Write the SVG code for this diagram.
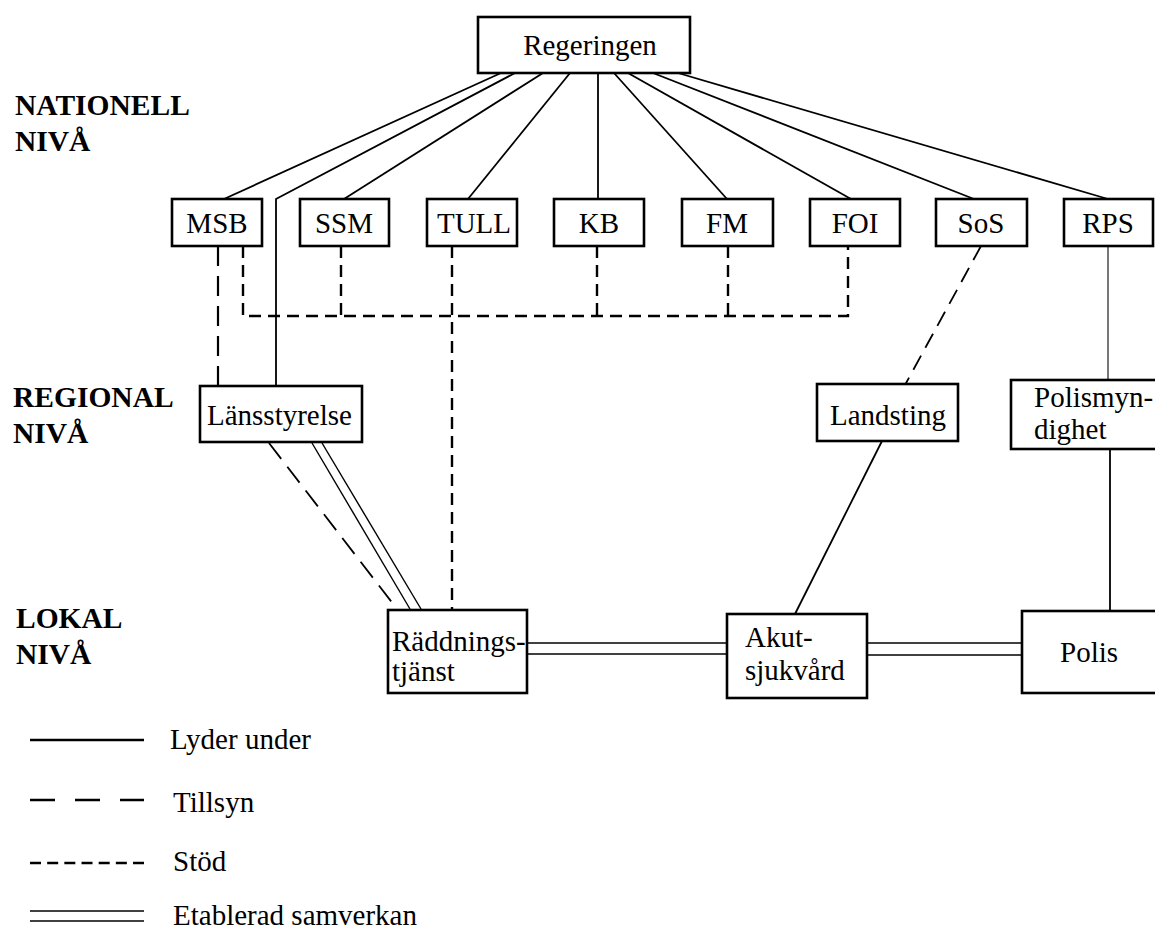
<svg xmlns="http://www.w3.org/2000/svg" width="1155" height="930" viewBox="0 0 1155 930">
<style>
.box{fill:#fff;stroke:#000;stroke-width:2.6}
.t{font-family:"Liberation Serif","Times New Roman",serif;font-size:29px;fill:#000}
.tc{text-anchor:middle}
.lvl{font-family:"Liberation Serif","Times New Roman",serif;font-size:29.5px;font-weight:bold;fill:#000}
.sol{stroke:#000;stroke-width:1.8;fill:none}
.gray{stroke:#777;stroke-width:2;fill:none}
.til{stroke:#000;stroke-width:2.2;fill:none;stroke-dasharray:20 10}
.sto{stroke:#000;stroke-width:2.4;fill:none;stroke-dasharray:12 7}
.dbl{stroke:#000;stroke-width:1.4;fill:none}
</style>
<rect width="1155" height="930" fill="#fff"/>
<g id="levels">
<text class="lvl" x="15" y="115">NATIONELL</text>
<text class="lvl" x="15" y="151">NIVÅ</text>
<text class="lvl" x="13" y="407">REGIONAL</text>
<text class="lvl" x="13" y="443">NIVÅ</text>
<text class="lvl" x="16" y="628">LOKAL</text>
<text class="lvl" x="16" y="664">NIVÅ</text>
</g>
<g id="connectors">
<line class="sol" x1="501" y1="73" x2="224" y2="199"/>
<polyline class="sol" points="515,73 276,199 276,386"/>
<line class="sol" x1="543" y1="73" x2="344" y2="199"/>
<line class="sol" x1="570" y1="73" x2="468" y2="199"/>
<line class="sol" x1="598" y1="73" x2="598" y2="199"/>
<line class="sol" x1="614" y1="73" x2="727" y2="199"/>
<line class="sol" x1="628" y1="73" x2="851" y2="199"/>
<line class="sol" x1="653" y1="73" x2="974" y2="199"/>
<line class="sol" x1="678" y1="73" x2="1108" y2="199"/>
<line class="til" x1="218" y1="246" x2="218" y2="386"/>
<polyline class="sto" points="243,246 243,316 848,316 848,246"/>
<line class="sto" x1="341" y1="246" x2="341" y2="316"/>
<line class="sto" x1="597" y1="246" x2="597" y2="316"/>
<line class="sto" x1="728" y1="246" x2="728" y2="316"/>
<line class="sto" x1="452" y1="246" x2="452" y2="610"/>
<line class="til" x1="981" y1="246" x2="905" y2="385" style="stroke-dasharray:16 9;stroke-width:1.8"/>
<line class="gray" x1="1108" y1="246" x2="1108" y2="380"/>
<line class="sol" x1="882" y1="441" x2="795" y2="614"/>
<line class="sol" x1="1110" y1="449" x2="1110" y2="611"/>
<line class="til" x1="269" y1="443" x2="397" y2="609" style="stroke-width:1.8"/>
<line class="dbl" x1="312" y1="443" x2="410" y2="609"/>
<line class="dbl" x1="322" y1="443" x2="421" y2="609"/>
<line class="dbl" x1="524" y1="643" x2="727" y2="643"/>
<line class="dbl" x1="524" y1="654" x2="727" y2="654"/>
<line class="dbl" x1="866" y1="643" x2="1022" y2="643"/>
<line class="dbl" x1="866" y1="655" x2="1022" y2="655"/>
</g>
<g id="regeringen"><rect class="box" x="478" y="17" width="212" height="56"/><text class="t tc" x="590" y="55">Regeringen</text></g>
<g id="msb"><rect class="box" x="172" y="199" width="90" height="47"/><text class="t tc" x="217" y="233">MSB</text></g>
<g id="ssm"><rect class="box" x="300" y="199" width="89" height="47"/><text class="t tc" x="344" y="233">SSM</text></g>
<g id="tull"><rect class="box" x="427" y="199" width="90" height="47"/><text class="t tc" x="474" y="233">TULL</text></g>
<g id="kb"><rect class="box" x="554" y="199" width="90" height="47"/><text class="t tc" x="599" y="233">KB</text></g>
<g id="fm"><rect class="box" x="682" y="199" width="91" height="47"/><text class="t tc" x="727" y="233">FM</text></g>
<g id="foi"><rect class="box" x="810" y="199" width="90" height="47"/><text class="t tc" x="855" y="233">FOI</text></g>
<g id="sos"><rect class="box" x="936" y="199" width="91" height="47"/><text class="t tc" x="981" y="233">SoS</text></g>
<g id="rps"><rect class="box" x="1064" y="199" width="89" height="47"/><text class="t tc" x="1108" y="233">RPS</text></g>
<g id="lansstyrelse"><rect class="box" x="200" y="386" width="162" height="56"/><text class="t" x="207" y="425">Länsstyrelse</text></g>
<g id="landsting"><rect class="box" x="817" y="384" width="141" height="57"/><text class="t" x="830" y="425">Landsting</text></g>
<g id="polismyndighet"><rect class="box" x="1011" y="380" width="160" height="69"/><text class="t" x="1034" y="407">Polismyn-</text><text class="t" x="1034" y="439">dighet</text></g>
<g id="raddningstjanst"><rect class="box" x="388" y="610" width="139" height="83"/><text class="t" x="392" y="651">Räddnings-</text><text class="t" x="392" y="681">tjänst</text></g>
<g id="akutsjukvard"><rect class="box" x="727" y="614" width="140" height="84"/><text class="t" x="745" y="647">Akut-</text><text class="t" x="745" y="680">sjukvård</text></g>
<g id="polis"><rect class="box" x="1022" y="611" width="150" height="82"/><text class="t" x="1060" y="662">Polis</text></g>
<g id="legend">
<line x1="30" y1="740" x2="144" y2="740" stroke="#000" stroke-width="2.6"/>
<text class="t" x="170" y="749">Lyder under</text>
<line x1="30" y1="800" x2="144" y2="800" stroke="#000" stroke-width="2.6" stroke-dasharray="25 20"/>
<text class="t" x="173" y="812">Tillsyn</text>
<line x1="30" y1="863" x2="144" y2="863" stroke="#000" stroke-width="2.6" stroke-dasharray="11 6.17"/>
<text class="t" x="173" y="871">Stöd</text>
<line x1="30" y1="911" x2="144" y2="911" stroke="#000" stroke-width="1.3"/>
<line x1="30" y1="921" x2="144" y2="921" stroke="#000" stroke-width="1.3"/>
<text class="t" x="173" y="925">Etablerad samverkan</text>
</g>
</svg>
